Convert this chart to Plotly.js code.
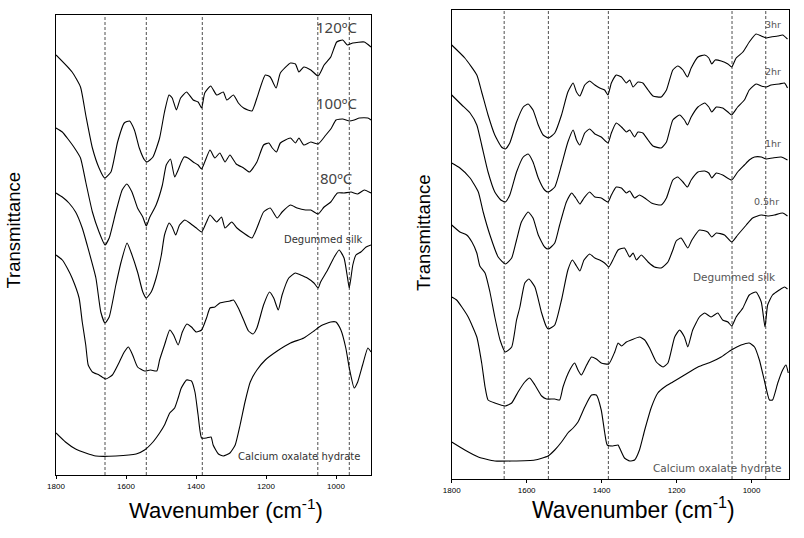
<!DOCTYPE html>
<html>
<head>
<meta charset="utf-8">
<script src="https://cdn.plot.ly/plotly-3.0.1.min.js"></script>
<style>html,body{margin:0;padding:0;background:#fff;}#chart{width:804px;height:538px;}</style>
</head>
<body>
<div id="chart"></div>
<script>
// ---------- Left panel: temperature series (wavenumber cm-1, offset transmittance a.u.) ----------
const wnL120 = [1800,1754,1730,1715,1696,1677,1661,1643,1624,1605,1590,1576,1562,1547,1540,1523,1504,1490,1477,1468,1456,1444,1427,1408,1394,1384,1375,1358,1341,1322,1312,1293,1279,1264,1240,1226,1202,1188,1171,1159,1130,1116,1106,1092,1072,1051,1034,1015,998,981,967,952,919,900];
const tL120  = [420,403,388,360,327,307,297,303,333,352,354,345,327,315,313,318,337,363,380,377,365,377,383,375,373,367,382,389,380,383,375,380,372,367,364,377,400,398,387,402,412,411,403,408,405,399,410,418,433,435,430,432,433,428];

const wnL100 = [1800,1782,1768,1749,1730,1715,1696,1677,1660,1648,1629,1611,1598,1583,1567,1552,1542,1533,1514,1496,1485,1473,1461,1451,1442,1434,1423,1408,1394,1384,1375,1360,1346,1332,1317,1303,1285,1264,1247,1226,1207,1192,1182,1170,1159,1130,1116,1106,1092,1072,1051,1029,1013,1000,981,962,948,933,909,900];
const tL100  = [347,343,337,328,317,293,263,243,230,237,263,285,291,283,267,258,249,257,270,290,310,316,298,305,313,318,317,313,310,306,313,325,317,322,313,320,311,307,303,313,330,332,327,323,332,337,332,337,330,333,331,340,347,355,356,354,355,357,357,355];

const wnL80 = [1800,1782,1763,1744,1725,1711,1686,1672,1660,1648,1629,1614,1597,1586,1567,1552,1542,1528,1514,1499,1490,1477,1468,1458,1447,1432,1418,1399,1384,1370,1360,1341,1327,1317,1298,1283,1264,1240,1226,1207,1188,1168,1154,1130,1111,1087,1072,1051,1034,1015,996,977,957,938,919,900];
const tL80  = [282,278,272,263,247,230,197,163,152,158,190,213,232,223,203,183,177,183,197,220,240,252,248,240,250,255,252,247,243,253,260,253,258,247,253,247,242,237,247,263,267,257,263,270,267,265,265,261,268,273,282,282,283,281,285,282];

const wnLsilk = [1800,1782,1768,1754,1734,1725,1715,1708,1696,1677,1658,1639,1619,1605,1593,1581,1567,1547,1530,1512,1504,1490,1475,1464,1451,1439,1426,1413,1399,1384,1370,1360,1346,1332,1303,1293,1279,1264,1250,1237,1226,1207,1190,1178,1165,1154,1135,1116,1101,1082,1063,1051,1044,1024,1005,991,977,967,962,952,943,929,914,900];
const tLsilk  = [220,215,207,197,177,153,130,110,103,100,96,100,113,123,128,120,108,104,105,104,115,130,145,140,130,143,151,148,143,145,157,167,168,172,174,175,167,155,144,141,147,170,183,177,165,180,197,202,200,197,192,187,193,205,218,225,217,197,187,210,220,223,228,230];

const wnLox = [1800,1773,1744,1715,1686,1629,1571,1547,1523,1504,1490,1475,1461,1451,1442,1427,1413,1403,1394,1384,1370,1357,1351,1336,1322,1303,1288,1274,1260,1245,1226,1202,1168,1130,1092,1063,1044,1015,1000,986,972,962,948,938,924,909,900];
const tLox  = [42,33,26,22,19,19,21,25,33,42,50,62,67,77,87,95,94,83,60,37,37,38,30,21,19,22,30,50,73,93,105,115,124,132,137,144,149,153,153,145,127,107,87,93,110,127,123];

// ---------- Right panel: time series ----------
const wnR3 = [1800,1765,1733,1720,1703,1685,1667,1657,1645,1627,1609,1596,1583,1569,1556,1542,1525,1507,1490,1476,1467,1458,1445,1432,1418,1405,1392,1383,1374,1361,1347,1334,1325,1316,1303,1290,1276,1263,1241,1227,1210,1197,1183,1171,1161,1143,1125,1114,1106,1097,1081,1063,1053,1041,1023,1006,988,974,961,948,930,917,904];
const tR3  = [434,421,404,387,364,344,332,330,336,357,372,375,369,354,344,341,346,364,387,396,387,383,394,398,394,391,389,384,396,404,402,396,399,392,397,396,389,383,382,389,409,413,409,402,411,422,424,421,415,419,418,415,412,421,427,437,445,443,441,442,443,444,440];

const wnR2 = [1800,1773,1751,1733,1720,1703,1685,1669,1657,1645,1627,1609,1596,1583,1569,1552,1542,1525,1507,1490,1476,1467,1458,1445,1432,1418,1401,1383,1374,1361,1347,1334,1325,1312,1303,1290,1276,1263,1241,1227,1210,1192,1179,1171,1161,1143,1125,1114,1106,1094,1077,1063,1053,1037,1019,1006,988,974,961,948,926,912,904];
const tR2  = [384,374,366,354,334,307,287,279,277,284,307,322,325,317,301,289,287,292,314,337,349,339,334,346,350,345,342,336,346,356,352,347,349,342,347,346,339,333,331,337,359,364,359,354,362,372,376,372,367,372,371,367,364,372,379,389,395,393,392,394,395,396,391];

const wnR1 = [1800,1778,1751,1729,1716,1698,1676,1657,1640,1627,1614,1596,1583,1569,1552,1542,1525,1512,1494,1480,1469,1458,1447,1432,1418,1401,1383,1374,1361,1347,1334,1325,1312,1299,1285,1267,1241,1227,1210,1197,1183,1171,1161,1143,1125,1114,1106,1094,1077,1053,1037,1019,1006,992,974,961,944,921,904];
const tR1  = [316,311,301,287,267,244,222,215,221,239,257,267,261,244,232,230,236,254,277,286,281,275,281,287,282,281,277,284,292,291,286,288,281,284,281,276,274,281,299,302,297,292,299,307,308,306,301,306,304,299,307,314,319,322,322,320,321,322,319];

const wnR05 = [1800,1778,1760,1746,1733,1725,1711,1698,1685,1671,1657,1640,1627,1618,1605,1594,1578,1560,1547,1542,1525,1507,1490,1478,1467,1458,1447,1432,1418,1405,1392,1381,1370,1356,1339,1325,1316,1307,1294,1276,1259,1241,1223,1210,1201,1188,1179,1170,1159,1139,1117,1106,1094,1072,1053,1037,1014,997,974,957,939,917,904];
const tR05  = [254,247,244,237,226,213,206,187,162,139,127,132,159,172,196,200,192,166,152,150,154,179,209,219,213,208,219,225,221,219,216,212,219,229,231,222,226,219,224,217,212,211,217,229,238,241,236,231,239,249,247,242,246,244,237,244,254,261,264,263,264,266,263];

const wnRsilk = [1800,1787,1773,1756,1733,1720,1711,1703,1685,1657,1640,1623,1605,1592,1578,1560,1547,1525,1512,1503,1485,1472,1463,1454,1440,1427,1414,1401,1381,1365,1356,1347,1334,1321,1299,1285,1272,1254,1236,1223,1205,1192,1179,1170,1157,1139,1125,1108,1090,1077,1063,1053,1041,1023,1006,988,974,964,957,944,926,912,904];
const tRsilk  = [182,179,172,162,142,116,92,79,76,73,76,87,97,101,94,83,80,80,79,92,109,116,109,104,114,122,120,116,115,127,136,133,137,139,142,139,131,117,112,116,142,149,142,132,149,162,166,162,166,159,157,153,162,171,184,187,177,152,174,184,189,192,190];

const wnRox = [1800,1765,1729,1685,1640,1578,1543,1525,1507,1490,1476,1463,1445,1427,1414,1401,1392,1385,1370,1356,1352,1339,1325,1312,1299,1285,1267,1250,1232,1210,1179,1143,1108,1081,1054,1028,1006,992,979,966,952,944,930,917,908,902];
const tRox  = [37,29,22,18,18,19,23,29,37,46,51,57,72,84,84,69,47,34,33,34,31,21,18,19,29,49,72,86,92,97,104,112,117,122,129,134,136,132,119,99,79,79,96,109,114,106];

// Reference band positions (dashed guides) and axis ticks
const bandLines = [1660, 1542, 1382, 1052, 962];
const tickVals = [1800, 1600, 1400, 1200, 1000];

// Curve labels
const leftLabels = [
  {text:'120ºC', wn:1000, t:448},
  {text:'100ºC', wn:1000, t:372},
  {text:'80ºC', wn:1000, t:297},
];
const leftSmall = [
  {text:'Degummed silk', wn:1036, t:236},
  {text:'Calcium oxalate hydrate', wn:1105, t:19},
];
const rightLabels = [
  {text:'3hr', wn:944, t:454},
  {text:'2hr', wn:944, t:407},
  {text:'1hr', wn:944, t:335},
  {text:'0.5hr', wn:959, t:277},
  {text:'Degummed silk', wn:1046, t:202},
  {text:'Calcium oxalate hydrate', wn:1092, t:11},
];

const lineStyle = {color:'#000', width:1.1, shape:'spline', smoothing:0.5};
function tr(x, y, xa, ya) {
  return {x:x, y:y, xaxis:xa, yaxis:ya, type:'scatter', mode:'lines', line:lineStyle, hoverinfo:'skip'};
}
const data = [
  tr(wnL120, tL120, 'x', 'y'), tr(wnL100, tL100, 'x', 'y'), tr(wnL80, tL80, 'x', 'y'),
  tr(wnLsilk, tLsilk, 'x', 'y'), tr(wnLox, tLox, 'x', 'y'),
  tr(wnR3, tR3, 'x2', 'y2'), tr(wnR2, tR2, 'x2', 'y2'), tr(wnR1, tR1, 'x2', 'y2'),
  tr(wnR05, tR05, 'x2', 'y2'), tr(wnRsilk, tRsilk, 'x2', 'y2'), tr(wnRox, tRox, 'x2', 'y2'),
];

const shapes = [];
bandLines.forEach(w => {
  shapes.push({type:'line', xref:'x', yref:'y domain', x0:w, x1:w, y0:0, y1:1, line:{color:'#222', width:0.8, dash:'3px,2px'}, layer:'below'});
  shapes.push({type:'line', xref:'x2', yref:'y2 domain', x0:w, x1:w, y0:0, y1:1, line:{color:'#222', width:0.8, dash:'3px,2px'}, layer:'below'});
});

const annotations = [];
function ann(o) { return Object.assign({showarrow:false, xanchor:'center', yanchor:'middle'}, o); }
leftLabels.forEach(l => annotations.push(ann({xref:'x', yref:'y', x:l.wn, y:l.t, text:l.text, font:{family:'Noto Sans, DejaVu Sans', size:15, color:'#444'}})));
leftSmall.forEach(l => annotations.push(ann({xref:'x', yref:'y', x:l.wn, y:l.t, text:l.text, font:{family:'DejaVu Sans', size:10, color:'#333'}})));
rightLabels.forEach(l => annotations.push(ann({xref:'x2', yref:'y2', x:l.wn, y:l.t, text:l.text, font:{family:'DejaVu Sans', size:l.text.length > 5 ? 10.5 : 9.5, color:'#555'}})));

const ytitleFont = {family:'Liberation Sans, Arial, sans-serif', size:18.5, color:'#000'};
const xtitleFont = {family:'Liberation Sans, Arial, sans-serif', size:22, color:'#000'};
annotations.push(ann({xref:'paper', yref:'paper', x:12.5/804, y:(538-230)/538, text:'Transmittance', textangle:-90, font:ytitleFont}));
annotations.push(ann({xref:'paper', yref:'paper', x:423/804, y:(538-233)/538, text:'Transmittance', textangle:-90, font:ytitleFont}));
annotations.push(ann({xref:'paper', yref:'paper', x:226/804, y:(538-509)/538, text:'Wavenumber (cm<sup>-1</sup>)', font:xtitleFont}));
annotations.push(ann({xref:'paper', yref:'paper', x:633/804, y:(538-508)/538, text:'Wavenumber (cm<sup>-1</sup>)', font:{...xtitleFont, size:23}}));

const xbase = {range:[1800, 900], tickvals:tickVals, ticktext:tickVals.map(String), ticks:'outside', ticklen:3, tickwidth:1, tickcolor:'#000',
  showline:true, mirror:true, linecolor:'#000', linewidth:1, showgrid:false, zeroline:false,
  tickfont:{family:'Liberation Sans, Arial', size:8, color:'#000'}, fixedrange:true};
const ybase = {showticklabels:false, ticks:'', showline:true, mirror:true, linecolor:'#000', linewidth:1, showgrid:false, zeroline:false, fixedrange:true};

const layout = {
  width:804, height:538, margin:{l:0, r:0, t:0, b:0}, showlegend:false,
  paper_bgcolor:'#fff', plot_bgcolor:'#fff',
  xaxis:{...xbase, domain:[56/804, 371/804], anchor:'y'},
  yaxis:{...ybase, domain:[(538-475)/538, (538-15)/538], range:[0, 460], anchor:'x'},
  xaxis2:{...xbase, domain:[451.7/804, 789/804], anchor:'y2'},
  yaxis2:{...ybase, domain:[(538-479)/538, (538-10)/538], range:[0, 469], anchor:'x2'},
  shapes:shapes, annotations:annotations
};
Plotly.newPlot('chart', data, layout, {displayModeBar:false, staticPlot:true});
</script>
</body>
</html>
